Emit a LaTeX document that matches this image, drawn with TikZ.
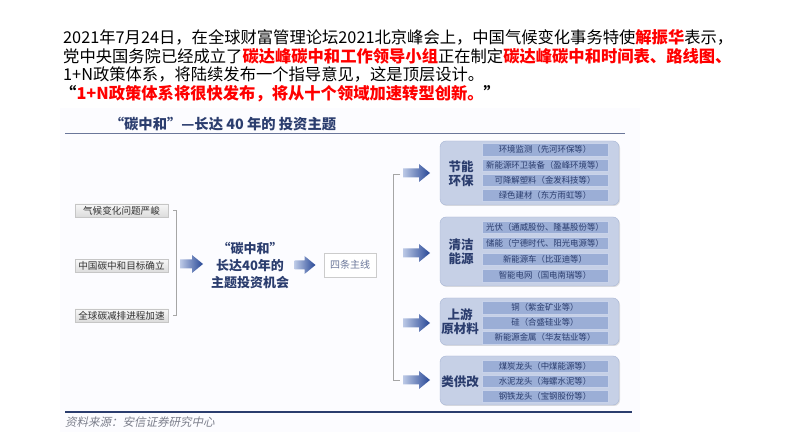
\documentclass[tikz,border=0pt]{standalone}
\usepackage{fontspec}
\newfontfamily\cjk{Noto Sans CJK SC}
\newfontfamily\cjkit{Noto Sans CJK SC}[FakeSlant=0.22]
\usetikzlibrary{shadows}

\definecolor{navy}{HTML}{2B3D6E}
\definecolor{arrowdark}{HTML}{274796}
\definecolor{arrowlight}{HTML}{BCC9E6}
\definecolor{groupfill}{HTML}{C6D0E6}
\definecolor{groupline}{HTML}{A8B6D4}
\definecolor{rowfill}{HTML}{9BAED6}
\definecolor{rowline}{HTML}{C9D3EA}
\definecolor{srcgray}{HTML}{7C7F8C}
\newcommand{\redtxt}[1]{{\bfseries\color{red}#1}}
% fat shaded arrow: centre x, centre y, length
\newcommand{\fatarrow}[3]{%
  \shade[left color=arrowlight, right color=arrowdark]
    (#1-#3/2,#2-4.5) -- (#1+#3/2-11,#2-4.5) -- (#1+#3/2-11,#2-9) -- (#1+#3/2,#2)
    -- (#1+#3/2-11,#2+9) -- (#1+#3/2-11,#2+4.5) -- (#1-#3/2,#2+4.5) -- cycle;}

\tikzset{
  topline/.style={anchor=base west, inner sep=0pt, font=\cjk\fontsize{16.3}{18}\selectfont},
  causebox/.style={draw=gray!45, top color=gray!6, bottom color=gray!28, inner sep=0pt,
    minimum width=93pt, minimum height=13pt, font=\cjk\fontsize{9.6}{10}\selectfont, text=black!80},
  groupbox/.style={draw=groupline, fill=groupfill, rounded corners=6pt, minimum width=179pt,
    drop shadow={opacity=0.25, shadow xshift=1pt, shadow yshift=-1pt}},
  grouplabel/.style={align=center, text=navy, font=\cjk\bfseries\fontsize{12.5}{14}\selectfont},
  rowbox/.style={draw=rowline, fill=rowfill, inner sep=0pt, minimum width=126pt, minimum height=12.5pt,
    text=navy, font=\cjk\fontsize{8.4}{9}\selectfont}
}

\begin{document}
\begin{tikzpicture}[x=1pt,y=-1pt]
\useasboundingbox (0,0) rectangle (793,446);
\fill[white] (0,0) rectangle (793,446);

% text above the chart
\node[topline] (line1) at (63,44) {2021年7月24日，在全球财富管理论坛2021北京峰会上，中国气候变化事务特使\redtxt{解振华}表示，};
\node[topline] (line2) at (63,63) {党中央国务院已经成立了\redtxt{碳达峰碳中和工作领导小组}正在制定\redtxt{碳达峰碳中和时间表、路线图、}};
\node[topline] (line3) at (63,81) {1+N政策体系，将陆续发布一个指导意见，这是顶层设计。};
\node[topline] (line4) at (60,100) {\bfseries “\redtxt{1+N政策体系将很快发布，将从十个领域加速转型创新。}”};

% chart
\fill[blue!1] (60,108) rectangle (640,432);
\node[text=navy, font=\cjk\bfseries\fontsize{14.3}{16}\selectfont] (title) at (223,124) {“碳中和”—长达 40 年的 投资主题};
\coordinate (titleL) at (65,134);
\coordinate (titleR) at (625,134);
\draw[navy!70, line width=1pt] (titleL) -- (titleR);

\node[causebox] (cause1) at (121.5,210.5) {气候变化问题严峻};
\node[causebox] (cause2) at (121.5,266) {中国碳中和目标确立};
\node[causebox] (cause3) at (121.5,315.5) {全球碳减排进程加速};
\coordinate (brA) at (176,210.5);
\coordinate (brB) at (176,315.5);
\draw[gray!70, line width=0.8pt] ([xshift=5pt]cause1.east) -- (brA) -- (brB) -- ([xshift=5pt]cause3.east);

\fatarrow{191.5}{264}{23}
\node[align=center, text=navy, font=\cjk\bfseries\fontsize{13}{17}\selectfont] (theme) at (250,265) {“碳中和”\\长达40年的\\主题投资机会};
\fatarrow{305}{265}{21}
\node[draw=gray!40, fill=white, minimum width=52pt, minimum height=24pt, inner sep=0pt,
  text=navy!70, font=\cjk\fontsize{10}{11}\selectfont,
  drop shadow={opacity=0.2, shadow xshift=1pt, shadow yshift=-1pt}] (mainline) at (350,265) {四条主线};

\coordinate (brC) at (393,174);
\coordinate (brD) at (393,380);
\draw[gray!70, line width=0.8pt] (400,174) -- (brC) -- (brD) -- (400,380);
\foreach \y in {173,253,323,380}{
  \fatarrow{416.5}{\y}{27}
}

% four groups
\node[groupbox, minimum height=64pt] (jnbox) at (529.5,173) {};
\node[grouplabel] (jnlabel) at (461,173.5) {节能\\环保};
\foreach \y/\t [count=\i] in {149.5/环境监测（先河环保等）, 165/新能源环卫装备（盈峰环境等）, 180/可降解塑料（金发科技等）, 195/绿色建材（东方雨虹等）}{
  \node[rowbox] (jn\i) at (545,\y) {\t};
}

\node[groupbox, minimum height=69pt] (qjbox) at (529.5,251.5) {};
\node[grouplabel] (qjlabel) at (461,252) {清洁\\能源};
\foreach \y/\t [count=\i] in {227/光伏（通威股份、隆基股份等）, 243/储能（宁德时代、阳光电源等）, 259/新能源车（比亚迪等）, 275.5/智能电网（国电南瑞等）}{
  \node[rowbox] (qj\i) at (545,\y) {\t};
}

\node[groupbox, minimum height=47pt] (sybox) at (529.5,321.5) {};
\node[grouplabel] (sylabel) at (460,321.5) {上游\\原材料};
\foreach \y/\t [count=\i] in {307.5/铜（紫金矿业等）, 322.5/硅（合盛硅业等）, 337.5/新能源金属（华友钴业等）}{
  \node[rowbox] (sy\i) at (545,\y) {\t};
}

\node[groupbox, minimum height=49pt] (lgbox) at (529.5,380.5) {};
\node[grouplabel] (lglabel) at (460,381.5) {类供改};
\foreach \y/\t [count=\i] in {366/煤炭龙头（中煤能源等）, 381/水泥龙头（海螺水泥等）, 396/钢铁龙头（宝钢股份等）}{
  \node[rowbox] (lg\i) at (545,\y) {\t};
}

\coordinate (footL) at (65,412);
\coordinate (footR) at (632,412);
\draw[navy, line width=1.6pt] (footL) -- (footR);
\node[anchor=west, inner sep=0pt, text=srcgray, font=\cjkit\fontsize{11.5}{12}\selectfont] (source) at (65,422) {资料来源：安信证券研究中心};
\end{tikzpicture}
\end{document}
